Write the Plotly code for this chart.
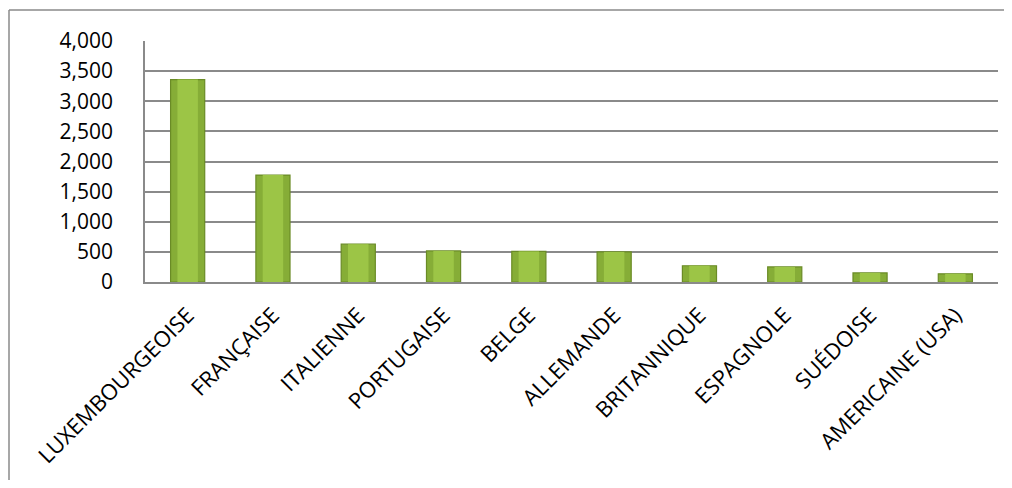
import plotly.graph_objects as go

categories = ["LUXEMBOURGEOISE", "FRANÇAISE", "ITALIENNE", "PORTUGAISE", "BELGE",
              "ALLEMANDE", "BRITANNIQUE", "ESPAGNOLE", "SUÉDOISE", "AMERICAINE (USA)"]
values = [3360, 1775, 628, 515, 508, 500, 270, 250, 150, 135]
y_ticks = [0, 500, 1000, 1500, 2000, 2500, 3000, 3500, 4000]

OFF = 8  # page body margin
W, H = 1012 - 2 * OFF, 488 - 2 * OFF
L, T = 145 - OFF, 41 - OFF
R = W - (998 - OFF)
B = H - (282 - OFF)
pw, ph = W - L - R, H - T - B

fig = go.Figure()
fig.add_trace(go.Bar(
    x=categories, y=values,
    marker=dict(color="#86ad37", line=dict(color="#6a8b26", width=1.2)),
    width=0.4, hoverinfo="skip",
))
fig.add_trace(go.Bar(
    x=categories, y=values,
    marker=dict(color="#9cc546", line=dict(width=0)),
    width=0.24,
))

fx0 = (9 - OFF - L) / pw
fy1 = 1 + (T - (10 - OFF)) / ph
fig.add_shape(type="line", xref="paper", yref="paper",
              x0=fx0, x1=(W + 40 - L) / pw, y0=fy1, y1=fy1,
              line=dict(color="#8a8a8a", width=1.5), layer="below")
fig.add_shape(type="line", xref="paper", yref="paper",
              x0=fx0, x1=fx0, y0=-(H + 40 - (T + ph)) / ph, y1=fy1,
              line=dict(color="#8a8a8a", width=1.5), layer="below")

fig.update_layout(
    width=W, height=H,
    margin=dict(l=L, r=R, t=T, b=B, autoexpand=False),
    paper_bgcolor="white", plot_bgcolor="white",
    showlegend=False, barmode="overlay",
    font=dict(family="Open Sans", size=21, color="black"),
)
fig.update_xaxes(
    tickangle=-45, showline=True, linecolor="#8a8a8a", linewidth=1.5,
    showgrid=False, ticks="", ticklabelstandoff=10,
    tickfont=dict(size=22),
)
fig.update_yaxes(
    range=[0, 4000], tickvals=y_ticks, tickformat=",d",
    showline=True, linecolor="#8a8a8a", linewidth=1.5,
    showgrid=True, gridcolor="#8a8a8a", gridwidth=1.5,
    zeroline=False, ticks="", ticklabelstandoff=26,
    tickfont=dict(size=21),
)

fig.write_html("out.html")
